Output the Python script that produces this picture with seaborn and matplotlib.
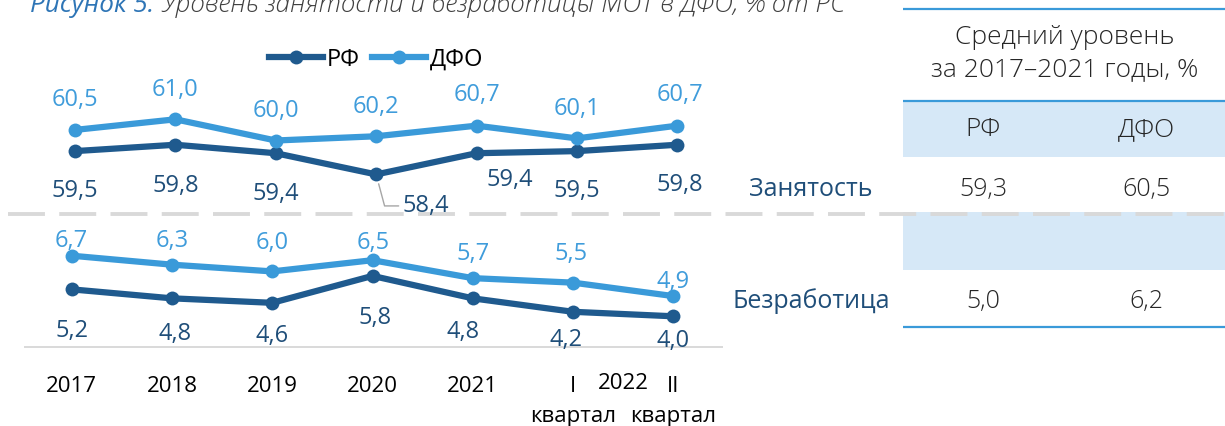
import pandas as pd
import matplotlib
matplotlib.use("Agg")
import matplotlib.pyplot as plt
import matplotlib.transforms as mtransforms
from matplotlib.lines import Line2D
from matplotlib.patches import Rectangle
import seaborn as sns

# values
periods = ["2017", "2018", "2019", "2020", "2021", "I", "II"]
emp_rf = [59.5, 59.8, 59.4, 58.4, 59.4, 59.5, 59.8]
emp_dfo = [60.5, 61.0, 60.0, 60.2, 60.7, 60.1, 60.7]
unemp_rf = [5.2, 4.8, 4.6, 5.8, 4.8, 4.2, 4.0]
unemp_dfo = [6.7, 6.3, 6.0, 6.5, 5.7, 5.5, 4.9]

table_cols = ["РФ", "ДФО"]
table_rows = ["Занятость", "Безработица"]
avg_rf = [59.3, 5.0]
avg_dfo = [60.5, 6.2]

rf_color = "#1f5a8e"
dfo_color = "#3a9ad9"
rf_text = "#1f4e79"
dfo_text = "#3f9cdb"
grey = "#d9d9d9"
fill = "#d6e8f7"

# label offsets from the point (pixels, +dy = down), visual centre of label
emp_dfo_off = [(0, -33), (0, -33), (0, -33), (0, -33), (0, -34), (0, -33), (3, -34)]
emp_rf_off = [(0, 37), (0, 38), (0, 37), (50, 28), (33, 23), (0, 37), (3, 37)]
unemp_dfo_off = [(0, -18), (0, -27), (0, -32), (1, -20), (0, -27), (-2, -32), (0, -17)]
unemp_rf_off = [(0, 38), (3, 32), (0, 30), (3, 39), (-10, 30), (-7, 25), (0, 21)]

plt.rcParams["font.family"] = ["Open Sans", "DejaVu Sans"]
plt.rcParams["lines.scale_dashes"] = False

W, H = 1225, 427
fig = plt.figure(figsize=(W / 100, H / 100), dpi=100)

# overlay in pixel coordinates: title, separator, table
ov = fig.add_axes([0, 0, 1, 1])
ov.set_xlim(0, W)
ov.set_ylim(H, 0)
ov.axis("off")

ax1 = fig.add_axes([0, 1 - 205 / H, 720 / W, 135 / H])
ax2 = fig.add_axes([25 / W, 1 - 348.3 / H, 697 / W, 123.3 / H])

palette = {"РФ": rf_color, "ДФО": dfo_color}


def long_df(rf, dfo):
    n = len(periods)
    return pd.DataFrame({
        "x": list(range(n)) * 2,
        "value": rf + dfo,
        "series": ["РФ"] * n + ["ДФО"] * n,
    })


for ax, rf, dfo in [(ax1, emp_rf, emp_dfo), (ax2, unemp_rf, unemp_dfo)]:
    sns.lineplot(data=long_df(rf, dfo), x="x", y="value", hue="series",
                 palette=palette, marker="o", markersize=10, markeredgewidth=0,
                 linewidth=4.5, legend=False, ax=ax)
    ax.set_facecolor("none")
    ax.set_xlabel("")
    ax.set_ylabel("")

ax1.set_xlim(-75 / 100.38, 645 / 100.38)
ax1.set_ylim(57.005, 63.373)
ax1.axis("off")

ax2.set_xlim(-0.4657, 6.4855)
ax2.set_ylim(2.618, 8.113)
for s in ["top", "left", "right"]:
    ax2.spines[s].set_visible(False)
ax2.spines["bottom"].set_color(grey)
ax2.spines["bottom"].set_linewidth(1.4)
ax2.set_xticks([])
ax2.set_yticks([])


def fmt(v):
    return f"{v:.1f}".replace(".", ",")


def put_labels(ax, values, offsets, color, leader=None):
    for i, (v, (dx, dy)) in enumerate(zip(values, offsets)):
        kw = {}
        if i == leader:
            kw["arrowprops"] = dict(arrowstyle="-", color="#a6a6a6", lw=1,
                                    connectionstyle="angle,angleA=180,angleB=105",
                                    relpos=(0, 0.45), shrinkA=1, shrinkB=7)
        ax.annotate(fmt(v), (i, v), xytext=(dx * 0.72, -(dy + 8.3) * 0.72),
                    textcoords="offset points", ha="center", va="baseline",
                    fontsize=17, color=color, **kw)


put_labels(ax1, emp_dfo, emp_dfo_off, dfo_text)
put_labels(ax1, emp_rf, emp_rf_off, rf_text, leader=3)
put_labels(ax2, unemp_dfo, unemp_dfo_off, dfo_text)
put_labels(ax2, unemp_rf, unemp_rf_off, rf_text)

# x labels under the lower panel
blend = mtransforms.blended_transform_factory(ax2.transData, ov.transData)
for i, p in enumerate(periods):
    ax2.text(i, 392.5, p, transform=blend, ha="center", va="baseline",
             fontsize=16, color="black")
ax2.text(5.5, 389.5, "2022", transform=blend, ha="center", va="baseline",
         fontsize=16, color="black")
for i in [5, 6]:
    ax2.text(i, 422.5, "квартал", transform=blend, ha="center", va="baseline",
             fontsize=16, color="black")

# legend
handles = [Line2D([], [], color=palette[s], marker="o", markersize=10,
                  markeredgewidth=0, lw=4.5) for s in palette]
fig.legend(handles, list(palette), loc="center", bbox_to_anchor=(376 / W, 1 - 60 / H),
           ncol=2, frameon=False, fontsize=17, handlelength=2.3,
           handletextpad=0.15, columnspacing=0.5)

# table on the right
tx0, tx1 = 903, 1225
col_x = [983.3, 1146.7]
ov.add_patch(Rectangle((tx0, 101.7), tx1 - tx0, 56.6, color=fill, lw=0))
ov.add_patch(Rectangle((tx0, 213.3), tx1 - tx0, 57.4, color=fill, lw=0))
for y in [10, 101.7, 327.7]:
    ov.plot([tx0, tx1], [y, y], color=dfo_color, lw=1.6, solid_capstyle="butt")

txt = dict(ha="center", va="baseline", fontsize=18, color="#262626", fontweight="light")
head = dict(txt, fontsize=19)
ov.text(1065, 35 + 9.5, "Средний уровень", **head)
ov.text(1065, 66.7 + 9.5, "за 2017–2021 годы, %", **head)
for x, c in zip(col_x, table_cols):
    ov.text(x, 126.7 + 9.5, c, **head)
for y, name, a, b in zip([187.5, 299], table_rows, avg_rf, avg_dfo):
    ov.text(811, y + 9, name, ha="center", va="baseline", fontsize=18, color=rf_text)
    ov.text(col_x[0], y + 9, fmt(a), **txt)
    ov.text(col_x[1], y + 9, fmt(b), **txt)

# dashed separator between the panels
ov.plot([8, W], [215, 215], color=grey, lw=2.8, dashes=(26.6, 10.3))

# title (top is cut off in the original)
t1 = ov.text(30, 12.5, "Рисунок 5.", color="#2e75b6", fontsize=18.8,
             style="italic", va="baseline")
fig.canvas.draw()
bb = t1.get_window_extent()
ov.text(bb.x1 + 7, 12.5, "Уровень занятости и безработицы МОТ в ДФО, % от РС",
        color="#404040", fontsize=18.8, style="italic", va="baseline",
        fontweight="light")

fig.savefig("out.png", dpi=100)
